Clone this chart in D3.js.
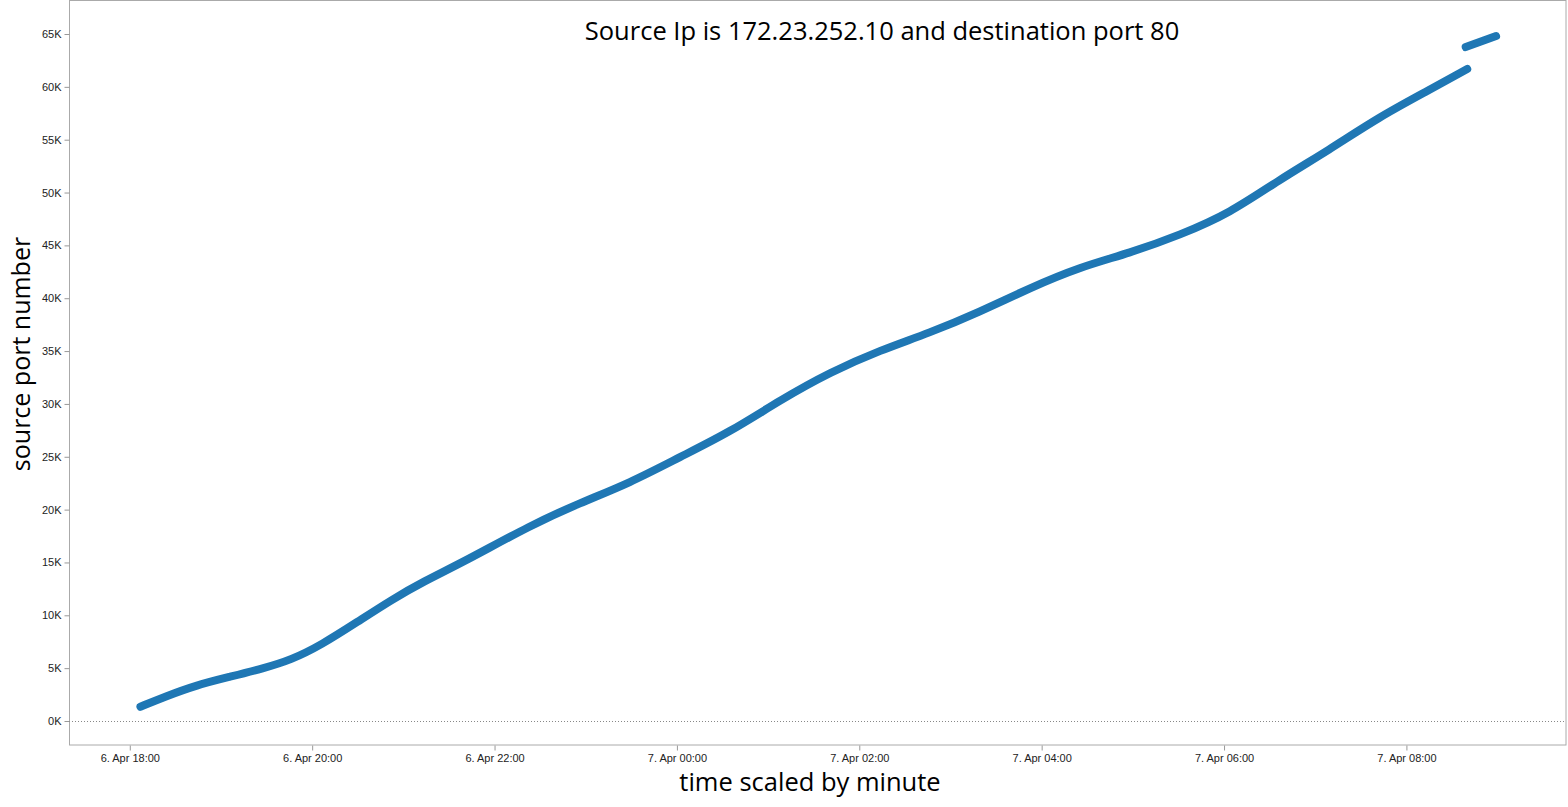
<!DOCTYPE html>
<html>
<head>
<meta charset="utf-8">
<script src="https://cdn.jsdelivr.net/npm/d3@7"></script>
<style>
  html, body { margin: 0; padding: 0; background: #fff; }
  svg { display: block; }
</style>
</head>
<body>
<svg id="chart" width="1568" height="807"></svg>
<script>
// ---- data ----
const title = "Source Ip is 172.23.252.10 and destination port 80";
const xLabel = "time scaled by minute";
const yLabel = "source port number";

// segment 1
const times1 = ["2019-04-06T18:07","2019-04-06T18:23","2019-04-06T18:44","2019-04-06T19:06","2019-04-06T19:28",
  "2019-04-06T19:46","2019-04-06T20:06","2019-04-06T20:30","2019-04-06T20:52","2019-04-06T21:13",
  "2019-04-06T21:40","2019-04-06T22:24","2019-04-06T22:56","2019-04-06T23:29","2019-04-07T00:02",
  "2019-04-07T00:35","2019-04-07T01:08","2019-04-07T01:41","2019-04-07T02:14","2019-04-07T02:46",
  "2019-04-07T03:19","2019-04-07T03:52","2019-04-07T04:25","2019-04-07T04:58","2019-04-07T05:31",
  "2019-04-07T06:04","2019-04-07T06:36","2019-04-07T07:09","2019-04-07T07:42","2019-04-07T08:15",
  "2019-04-07T08:40"];
const ports1 = [1350,2300,3406,4190,4985,
  5771,7190,9395,11448,13180,
  15073,18543,20625,22517,24976,
  27342,30369,33018,35099,36708,
  38694,40965,42952,44276,45979,
  48061,51183,54021,57143,59697,
  61684];
// segment 2
const times2 = ["2019-04-07T08:39","2019-04-07T08:59"];
const ports2 = [63766,64807];

const xTicks = ["2019-04-06T18:00","2019-04-06T20:00","2019-04-06T22:00","2019-04-07T00:00",
  "2019-04-07T02:00","2019-04-07T04:00","2019-04-07T06:00","2019-04-07T08:00"];
const yTicks = [0,5000,10000,15000,20000,25000,30000,35000,40000,45000,50000,55000,60000,65000];

// ---- layout ----
const svg = d3.select("#chart");
const plotLeft = 69, plotRight = 1566, plotBottom = 745;
const parse = d3.timeParse("%Y-%m-%dT%H:%M");

const x = d3.scaleTime()
  .domain([parse("2019-04-06T17:20"), parse("2019-04-07T09:45")])
  .range([plotLeft, plotRight]);
// 0K at y=721, 65K at y=34
const y = d3.scaleLinear().domain([0, 65000]).range([721, 34]);

// frame
svg.append("rect")
  .attr("x", plotLeft + 0.5).attr("y", 0.5)
  .attr("width", plotRight - plotLeft - 0.5).attr("height", plotBottom - 0.5)
  .attr("fill", "none").attr("stroke", "#aaa").attr("stroke-width", 1);

// zero dotted line
svg.append("line")
  .attr("x1", plotLeft).attr("x2", plotRight)
  .attr("y1", Math.round(y(0)) + 0.5).attr("y2", Math.round(y(0)) + 0.5)
  .attr("stroke", "#888").attr("stroke-width", 1).attr("stroke-dasharray", "1,2");

// y axis
const yAxis = d3.axisLeft(y).tickValues(yTicks)
  .tickFormat(d => (d / 1000) + "K").tickSize(5).tickPadding(3);
const gy = svg.append("g").attr("transform", `translate(${plotLeft + 0.5},0)`).call(yAxis);
gy.select(".domain").remove();
gy.selectAll(".tick line").attr("stroke", "#999");
gy.selectAll(".tick text").attr("fill", "#222")
  .style("font-family", "'Liberation Sans', Arial, sans-serif").style("font-size", "11px");

// x axis
const xAxis = d3.axisBottom(x).tickValues(xTicks.map(parse))
  .tickFormat(d3.timeFormat("%-d. %b %H:%M")).tickSize(5).tickPadding(4);
const gx = svg.append("g").attr("transform", `translate(0,${plotBottom + 0.5})`).call(xAxis);
gx.select(".domain").remove();
gx.selectAll(".tick line").attr("stroke", "#999");
gx.selectAll(".tick text").attr("fill", "#222")
  .style("font-family", "'Liberation Sans', Arial, sans-serif").style("font-size", "11px");

// data lines
const line = d3.line().x(d => x(d.t)).y(d => y(d.v)).curve(d3.curveBasis);
const seg1 = times1.map((t, i) => ({ t: parse(t), v: ports1[i] }));
const seg2 = times2.map((t, i) => ({ t: parse(t), v: ports2[i] }));
[seg1, seg2].forEach(seg => {
  svg.append("path").datum(seg)
    .attr("d", line)
    .attr("fill", "none")
    .attr("stroke", "#1f77b4")
    .attr("stroke-width", 8)
    .attr("stroke-linecap", "round")
    .attr("stroke-linejoin", "round");
});

// title
svg.append("text")
  .attr("x", 882).attr("y", 40)
  .attr("text-anchor", "middle")
  .style("font-family", "'Open Sans', 'Noto Sans', sans-serif")
  .style("font-size", "25.5px").attr("fill", "#000")
  .text(title);

// axis titles
svg.append("text")
  .attr("x", 810).attr("y", 791)
  .attr("text-anchor", "middle")
  .style("font-family", "'Open Sans', 'Noto Sans', sans-serif")
  .style("font-size", "25.5px").attr("fill", "#000")
  .text(xLabel);

svg.append("text")
  .attr("transform", "translate(30,354) rotate(-90)")
  .attr("text-anchor", "middle")
  .style("font-family", "'Open Sans', 'Noto Sans', sans-serif")
  .style("font-size", "25px").attr("fill", "#000")
  .text(yLabel);
</script>
</body>
</html>
